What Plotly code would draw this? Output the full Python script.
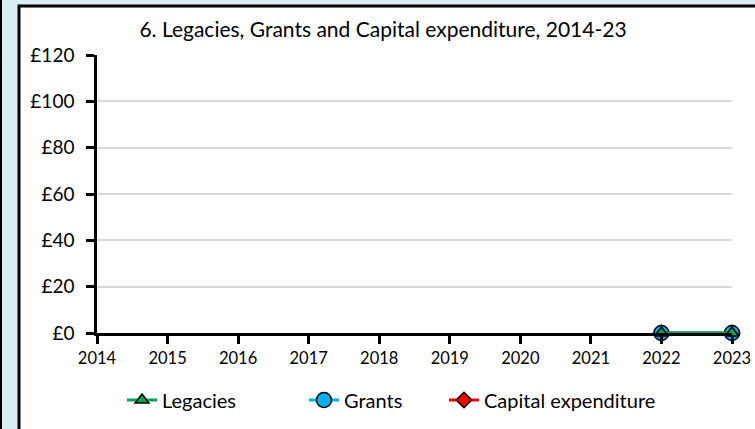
import plotly.graph_objects as go

years = [2014, 2015, 2016, 2017, 2018, 2019, 2020, 2021, 2022, 2023]
legacies = [None, None, None, None, None, None, None, None, 0, 0]
grants = [None, None, None, None, None, None, None, None, 0, 0]
capex = [None, None, None, None, None, None, None, None, 0, 0]
y_ticks = [0, 20, 40, 60, 80, 100, 120]
y_labels = ["£0", "£20", "£40", "£60", "£80", "£100", "£120"]

W, H = 755, 429
L, R, T, B = 97, 732, 55, 333
pw, ph = R - L, B - T

def px(x):
    return (x - L) / pw

def py(y):
    return (B - y) / ph

FONT = "Lato"

fig = go.Figure()
fig.add_trace(go.Scatter(x=years, y=capex, name="Capital expenditure", mode="lines+markers",
                         line=dict(color="#FF0000", width=3),
                         marker=dict(symbol="diamond", size=12, color="#FF0000", line=dict(color="black", width=1.5)),
                         cliponaxis=False, legend="legend3"))
fig.add_trace(go.Scatter(x=years, y=grants, name="Grants", mode="lines+markers",
                         line=dict(color="#00B0F0", width=3),
                         marker=dict(symbol="circle", size=15, color="#00B0F0", line=dict(color="black", width=1.5)),
                         cliponaxis=False, legend="legend2"))
fig.add_trace(go.Scatter(x=years, y=legacies, name="Legacies", mode="lines+markers",
                         line=dict(color="#00A651", width=3),
                         marker=dict(symbol="triangle-up", size=12, color="#00A651", line=dict(color="black", width=1.5)),
                         cliponaxis=False, legend="legend"))

def leg(xpx):
    return dict(orientation="h", x=xpx / W, xref="container", xanchor="left",
                y=1 - 400 / H, yref="container", yanchor="middle",
                font=dict(size=20, family=FONT), bgcolor="rgba(0,0,0,0)")

fig.update_layout(
    width=W, height=H,
    margin=dict(l=L, r=W - R, t=T, b=H - B, pad=0, autoexpand=False),
    paper_bgcolor="#DAEEF3",
    plot_bgcolor="rgba(0,0,0,0)",
    font=dict(family=FONT, color="black"),
    title=dict(text="6. Legacies, Grants and Capital expenditure, 2014-23",
               x=383 / W, xref="container", xanchor="center",
               y=1 - 30 / H, yref="container", yanchor="middle",
               font=dict(size=21, family=FONT, color="black")),
    showlegend=True,
    legend=leg(122),
    legend2=leg(304),
    legend3=leg(444),
    shapes=[
        dict(type="rect", xref="paper", yref="paper", layer="below",
             x0=px(19), x1=px(770), y0=py(440), y1=py(6),
             fillcolor="white", line=dict(color="black", width=3)),
        dict(type="rect", xref="paper", yref="paper", layer="below",
             x0=px(-2), x1=px(2), y0=py(440), y1=py(-5),
             fillcolor="black", line=dict(width=0)),
    ],
)

fig.update_xaxes(range=[2014, 2023], tickmode="array", tickvals=years,
                 ticktext=[str(y) for y in years],
                 showline=True, linecolor="black", linewidth=2.5,
                 ticks="outside", ticklen=8, tickwidth=2.5, tickcolor="black",
                 showgrid=False, zeroline=False,
                 tickfont=dict(size=16.5, family=FONT))
fig.update_yaxes(range=[0, 120], tickmode="array", tickvals=y_ticks, ticktext=y_labels,
                 showline=True, linecolor="black", linewidth=2.5,
                 ticks="outside", ticklen=8, tickwidth=2.5, tickcolor="black",
                 ticklabelstandoff=8,
                 showgrid=True, gridcolor="#D9D9D9", gridwidth=2,
                 zeroline=False,
                 tickfont=dict(size=19, family=FONT))

fig.write_html("out.html", config={"displayModeBar": False},
               post_script="document.body.style.margin='0';document.body.style.overflow='hidden';")
